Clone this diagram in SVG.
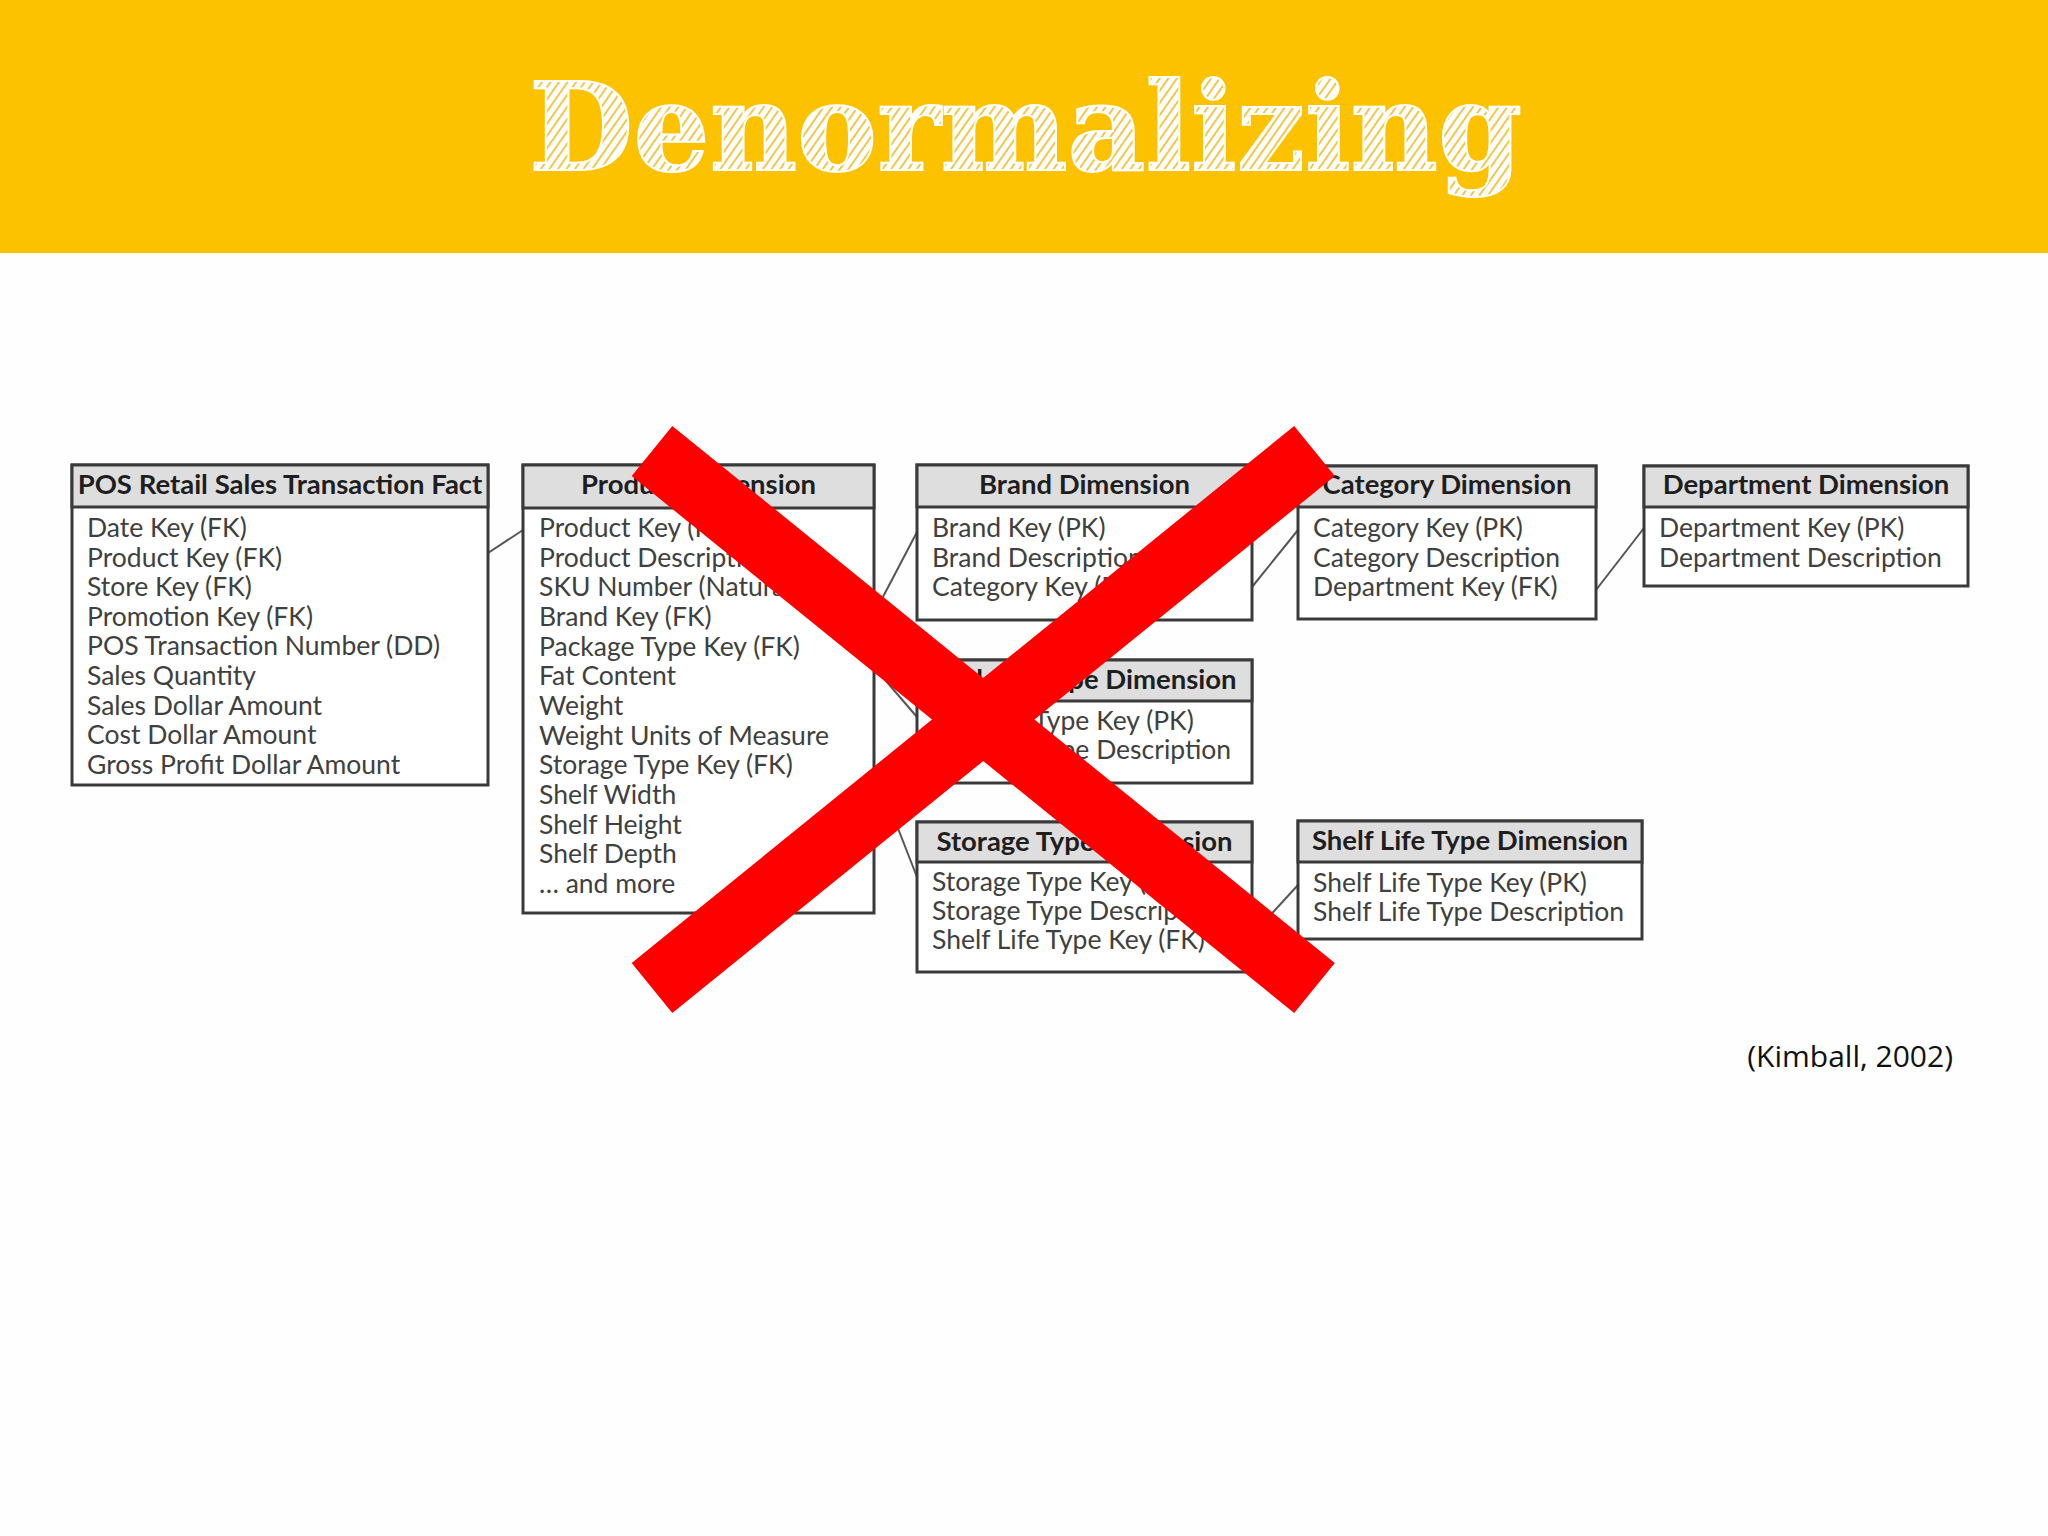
<svg xmlns="http://www.w3.org/2000/svg" width="2048" height="1536" viewBox="0 0 2048 1536">
<defs>
<pattern id="hatch" width="7" height="7" patternUnits="userSpaceOnUse" patternTransform="rotate(-55)">
<rect width="7" height="7" fill="#ffffff"/>
<rect width="7" height="2" fill="#f2c84a"/>
</pattern>
<style>
.box{fill:#ffffff;stroke:#3a3a3a;stroke-width:3}
.hdr{fill:#dedede;stroke:#3a3a3a;stroke-width:3}
.ht{font-family:Lato,"Open Sans",sans-serif;font-weight:bold;font-size:27.5px;fill:#1e1e1e;text-anchor:middle}
.rt{font-family:Lato,"Open Sans",sans-serif;font-size:26.5px;fill:#404040}
.con{stroke:#555555;stroke-width:2;fill:none}
.x{stroke:#ff0000;stroke-width:64.5;stroke-linecap:butt}
</style>
</defs>
<rect width="2048" height="1536" fill="#fefefe"/>
<rect width="2048" height="253" fill="#fcc200"/>
<text x="529" y="170" font-family="'DejaVu Serif',serif" font-weight="bold" font-size="122" textLength="993" lengthAdjust="spacingAndGlyphs" fill="url(#hatch)" stroke="#ffffff" stroke-width="2">Denormalizing</text>

<g id="connectors">
<line class="con" x1="488" y1="553" x2="523" y2="530"/>
<line class="con" x1="874" y1="614" x2="917" y2="532"/>
<line class="con" x1="874" y1="667" x2="917" y2="717"/>
<line class="con" x1="874" y1="767" x2="917" y2="877"/>
<line class="con" x1="1252" y1="587" x2="1298" y2="530"/>
<line class="con" x1="1596" y1="590" x2="1644" y2="528"/>
<line class="con" x1="1252" y1="935" x2="1298" y2="885"/>
</g>

<g id="fact">
<rect class="box" x="72" y="465" width="416" height="320"/>
<rect class="hdr" x="72" y="465" width="416" height="42"/>
<text class="ht" x="280" y="494">POS Retail Sales Transaction Fact</text>
<text class="rt" x="87" y="537">Date Key (FK)</text>
<text class="rt" x="87" y="566.6">Product Key (FK)</text>
<text class="rt" x="87" y="596.2">Store Key (FK)</text>
<text class="rt" x="87" y="625.8">Promotion Key (FK)</text>
<text class="rt" x="87" y="655.4">POS Transaction Number (DD)</text>
<text class="rt" x="87" y="685">Sales Quantity</text>
<text class="rt" x="87" y="714.6">Sales Dollar Amount</text>
<text class="rt" x="87" y="744.2">Cost Dollar Amount</text>
<text class="rt" x="87" y="773.8">Gross Profit Dollar Amount</text>
</g>

<g id="product">
<rect class="box" x="523" y="465" width="351" height="448"/>
<rect class="hdr" x="523" y="465" width="351" height="43"/>
<text class="ht" x="698.5" y="494">Product Dimension</text>
<text class="rt" x="539" y="537">Product Key (PK)</text>
<text class="rt" x="539" y="566.7">Product Description</text>
<text class="rt" x="539" y="596.3">SKU Number (Natural Key)</text>
<text class="rt" x="539" y="626">Brand Key (FK)</text>
<text class="rt" x="539" y="655.7">Package Type Key (FK)</text>
<text class="rt" x="539" y="685.3">Fat Content</text>
<text class="rt" x="539" y="715">Weight</text>
<text class="rt" x="539" y="744.7">Weight Units of Measure</text>
<text class="rt" x="539" y="774.3">Storage Type Key (FK)</text>
<text class="rt" x="539" y="804">Shelf Width</text>
<text class="rt" x="539" y="833.7">Shelf Height</text>
<text class="rt" x="539" y="863.3">Shelf Depth</text>
<text class="rt" x="539" y="893">… and more</text>
</g>

<g id="brand">
<rect class="box" x="917" y="465" width="335" height="155"/>
<rect class="hdr" x="917" y="465" width="335" height="42"/>
<text class="ht" x="1084.5" y="494">Brand Dimension</text>
<text class="rt" x="932" y="537">Brand Key (PK)</text>
<text class="rt" x="932" y="566.6">Brand Description</text>
<text class="rt" x="932" y="596.2">Category Key (FK)</text>
</g>

<g id="package">
<rect class="box" x="917" y="660" width="335" height="123"/>
<rect class="hdr" x="917" y="660" width="335" height="41"/>
<text class="ht" x="1084.5" y="689">Package Type Dimension</text>
<text class="rt" x="932" y="730">Package Type Key (PK)</text>
<text class="rt" x="932" y="759">Package Type Description</text>
</g>

<g id="storage">
<rect class="box" x="917" y="822" width="335" height="150"/>
<rect class="hdr" x="917" y="822" width="335" height="40"/>
<text class="ht" x="1084.5" y="851">Storage Type Dimension</text>
<text class="rt" x="932" y="891">Storage Type Key (PK)</text>
<text class="rt" x="932" y="920">Storage Type Description</text>
<text class="rt" x="932" y="949">Shelf Life Type Key (FK)</text>
</g>

<g id="category">
<rect class="box" x="1298" y="466" width="298" height="153"/>
<rect class="hdr" x="1298" y="466" width="298" height="41"/>
<text class="ht" x="1447" y="494">Category Dimension</text>
<text class="rt" x="1313" y="537">Category Key (PK)</text>
<text class="rt" x="1313" y="566.6">Category Description</text>
<text class="rt" x="1313" y="596.2">Department Key (FK)</text>
</g>

<g id="department">
<rect class="box" x="1644" y="466" width="324" height="120"/>
<rect class="hdr" x="1644" y="466" width="324" height="41"/>
<text class="ht" x="1806" y="494">Department Dimension</text>
<text class="rt" x="1659" y="537">Department Key (PK)</text>
<text class="rt" x="1659" y="566.6">Department Description</text>
</g>

<g id="shelflife">
<rect class="box" x="1298" y="821" width="344" height="118"/>
<rect class="hdr" x="1298" y="821" width="344" height="41"/>
<text class="ht" x="1470" y="850">Shelf Life Type Dimension</text>
<text class="rt" x="1313" y="892">Shelf Life Type Key (PK)</text>
<text class="rt" x="1313" y="921">Shelf Life Type Description</text>
</g>

<g id="cross">
<line class="x" x1="652" y1="451" x2="1314.5" y2="988"/>
<line class="x" x1="1314.5" y1="451" x2="652" y2="988"/>
</g>

<text x="1953" y="1067" font-family="'Open Sans',sans-serif" font-size="30" fill="#111111" text-anchor="end">(Kimball, 2002)</text>
</svg>
